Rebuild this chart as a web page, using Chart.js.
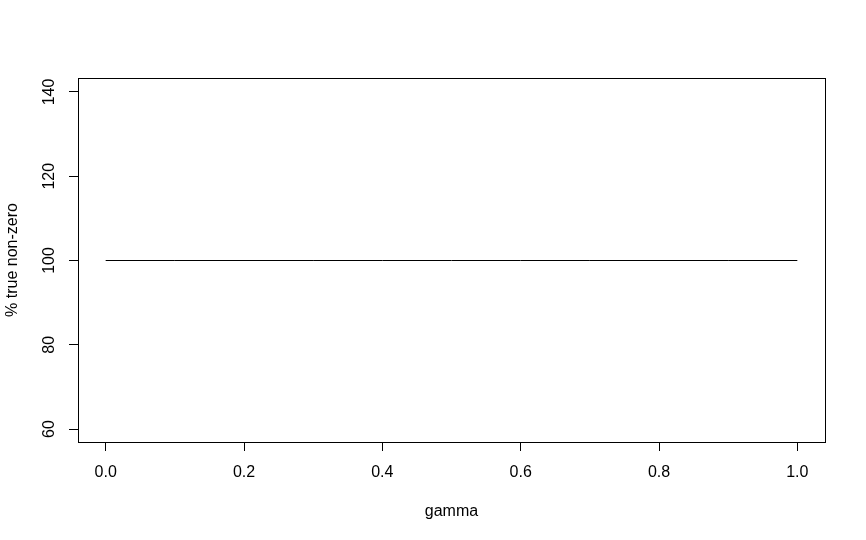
<!DOCTYPE html>
<html lang="en">
<head>
    <meta charset="UTF-8">
    <title>% true non-zero vs gamma</title>
    <script src="https://cdn.jsdelivr.net/npm/chart.js"></script>
    <style>
        body {
            margin: 0;
            background-color: #ffffff;
        }
    </style>
</head>
<body>
<canvas id="gammaChart" width="866" height="540"></canvas>

<script>
    // values
    const gamma = [0.0, 0.1, 0.2, 0.3, 0.4, 0.5, 0.6, 0.7, 0.8, 0.9, 1.0];
    const pctTrueNonZero = [100, 100, 100, 100, 100, 100, 100, 100, 100, 100, 100];
    const xTickValues = [0.0, 0.2, 0.4, 0.6, 0.8, 1.0];
    const yTickValues = [60, 80, 100, 120, 140];

    const fontFamily = "'Liberation Sans', Arial, sans-serif";

    // draws the full box around the plot region (R style)
    const boxPlugin = {
        id: 'box',
        afterDraw(chart) {
            const a = chart.chartArea;
            const ctx = chart.ctx;
            ctx.save();
            ctx.strokeStyle = '#000';
            ctx.lineWidth = 1;
            ctx.strokeRect(Math.round(a.left) + 0.5, Math.round(a.top) + 0.5,
                Math.round(a.right - a.left), Math.round(a.bottom - a.top));
            ctx.restore();
        }
    };

    const ctx = document.getElementById('gammaChart').getContext('2d');
    const chart = new Chart(ctx, {
        type: 'line',
        data: {
            datasets: [{
                label: '% true non-zero',
                data: gamma.map((g, i) => ({x: g, y: pctTrueNonZero[i]})),
                borderColor: '#000',
                borderWidth: 1,
                pointRadius: 0,
                fill: false,
                tension: 0
            }]
        },
        options: {
            responsive: false,
            animation: false,
            layout: {
                padding: {left: 0, top: 78, right: 41, bottom: 0}
            },
            plugins: {
                legend: {display: false},
                tooltip: {enabled: false}
            },
            scales: {
                x: {
                    type: 'linear',
                    min: -0.04,
                    max: 1.04,
                    afterBuildTicks: s => { s.ticks = xTickValues.map(v => ({value: v})); },
                    afterFit: s => { s.height = 98; },
                    grid: {
                        drawOnChartArea: false,
                        drawTicks: true,
                        tickLength: 9,
                        tickColor: '#000',
                        tickWidth: 1
                    },
                    border: {display: false},
                    ticks: {
                        color: '#000',
                        padding: 12,
                        maxRotation: 0,
                        font: {family: fontFamily, size: 16},
                        callback: v => v.toFixed(1)
                    },
                    title: {
                        display: true,
                        text: 'gamma',
                        color: '#000',
                        font: {family: fontFamily, size: 16},
                        padding: {top: 0, bottom: 19}
                    }
                },
                y: {
                    type: 'linear',
                    min: 56.92,
                    max: 143.32,
                    afterBuildTicks: s => { s.ticks = yTickValues.map(v => ({value: v})); },
                    afterFit: s => { s.width = 78; },
                    grid: {
                        drawOnChartArea: false,
                        drawTicks: true,
                        tickLength: 9,
                        tickColor: '#000',
                        tickWidth: 1
                    },
                    border: {display: false},
                    ticks: {
                        color: '#000',
                        padding: 6,
                        minRotation: 90,
                        maxRotation: 90,
                        crossAlign: 'center',
                        font: {family: fontFamily, size: 16},
                        callback: v => String(v)
                    },
                    title: {
                        display: true,
                        text: '% true non-zero',
                        color: '#000',
                        font: {family: fontFamily, size: 16},
                        padding: {top: 3, bottom: 0}
                    }
                }
            }
        },
        plugins: [boxPlugin]
    });
</script>
</body>
</html>
